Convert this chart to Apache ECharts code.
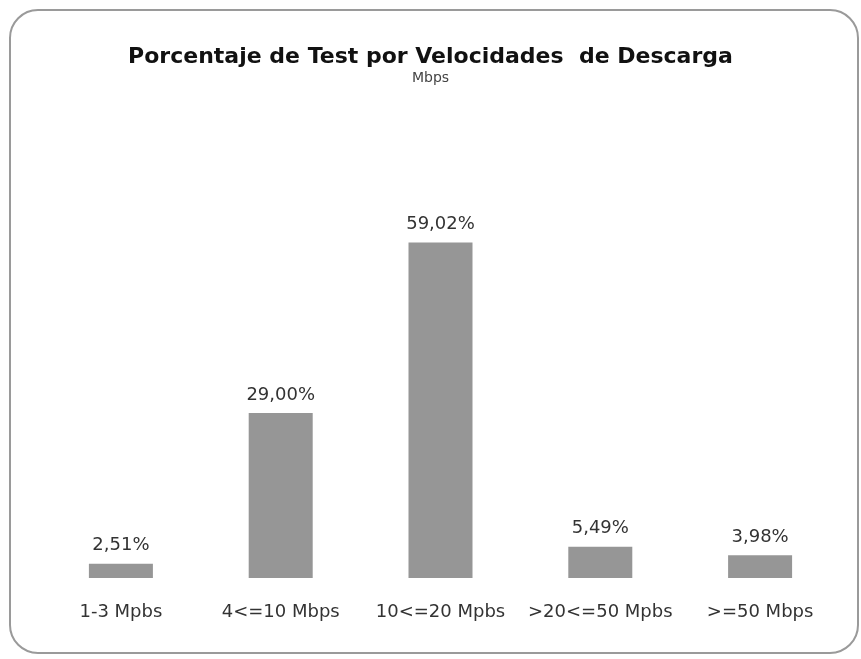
<!DOCTYPE html>
<html style="height: 100%">
<head>
  <meta charset="UTF-8" />
  <title>Velocidades de Descarga</title>
  <script src="https://cdn.jsdelivr.net/npm/echarts@6/dist/echarts.min.js"></script>
</head>
<body style="height: 100%; margin: 0; background: #fff">
  <div id="container" style="width: 861px; height: 659px"></div>
  <script>
    const categories = ['1-3 Mpbs', '4<=10 Mbps', '10<=20 Mpbs', '>20<=50 Mpbs', '>=50 Mbps'];
    const values = [2.51, 29.00, 59.02, 5.49, 3.98];

    const chart = echarts.init(document.getElementById('container'), null, { renderer: 'canvas' });
    chart.setOption({
      animation: false,
      textStyle: { fontFamily: 'DejaVu Sans, sans-serif' },
      graphic: [{
        type: 'rect',
        shape: { x: 10, y: 10, width: 848, height: 643, r: 28 },
        style: { fill: 'none', stroke: '#9a9a9a', lineWidth: 2 },
        z: -1
      }],
      title: {
        text: 'Porcentaje de Test por Velocidades  de Descarga',
        subtext: 'Mbps',
        left: 'center',
        top: 41,
        itemGap: 3,
        textStyle: { fontSize: 22, fontWeight: 'bold', color: '#111' },
        subtextStyle: { fontSize: 14, color: '#444' }
      },
      grid: { left: 41, right: 21, top: 180, bottom: 81 },
      xAxis: {
        type: 'category',
        data: categories,
        axisLine: { show: false },
        axisTick: { show: false },
        axisLabel: { margin: 25, fontSize: 18, color: '#333', interval: 0 }
      },
      yAxis: {
        type: 'value',
        min: 0,
        max: 70,
        show: false,
        splitLine: { show: false }
      },
      series: [{
        type: 'bar',
        data: values,
        barWidth: 64,
        itemStyle: { color: '#969696' },
        label: {
          show: true,
          position: 'top',
          distance: 9,
          fontSize: 18,
          color: '#333',
          formatter: p => p.value.toFixed(2).replace('.', ',') + '%'
        }
      }]
    });
  </script>
</body>
</html>
